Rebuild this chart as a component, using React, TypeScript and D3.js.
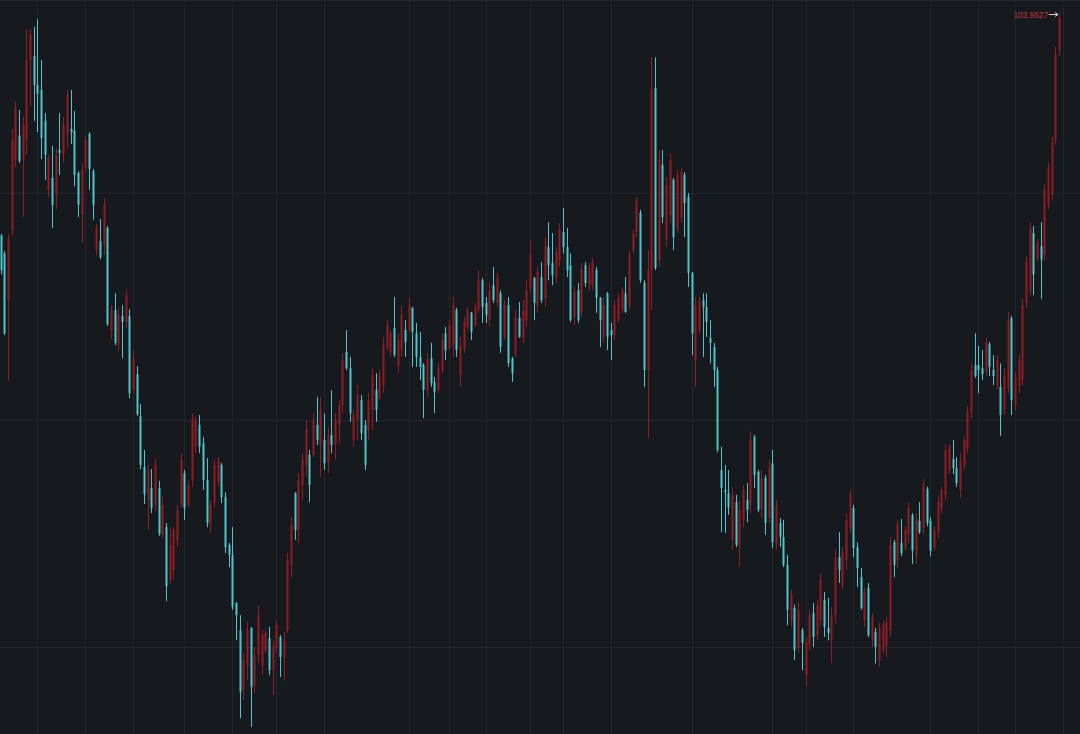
import React from 'react';
import * as d3 from 'd3';

const W = 1080;
const H = 734;

const open = [
99.06,98.67,97.64,99.19,100.73,101.26,100.73,101.17,102.93,103.02,
102.38,102.27,101.59,100.07,100.33,99.96,100.95,100.84,101.28,101.41,
101.37,100.44,99.52,100.55,101.30,100.48,98.74,98.94,98.85,99.23,
96.98,97.42,96.65,97.29,97.16,97.29,95.66,96.01,95.09,93.97,
93.24,93.50,93.13,93.50,92.47,92.64,91.48,91.70,92.36,93.13,
93.83,93.13,93.68,94.45,94.89,94.49,93.68,92.69,93.17,93.64,
94.01,93.30,92.25,92.03,90.97,90.37,89.05,89.60,90.42,89.16,
89.82,89.60,89.93,90.20,89.49,89.98,90.22,89.78,90.37,91.81,
93.39,92.58,93.57,94.01,94.23,94.23,94.89,94.45,94.56,94.07,
94.67,94.45,94.89,95.33,96.50,96.14,94.56,95.00,95.44,94.89,
94.78,95.22,95.66,95.48,95.77,96.59,96.50,97.03,96.21,96.54,
96.98,96.98,97.47,96.91,96.39,96.21,95.66,96.36,95.84,95.66,
96.10,96.91,96.59,96.65,97.42,95.99,96.59,97.03,97.36,97.09,
97.42,98.08,97.58,97.20,97.97,97.58,97.79,96.81,97.53,96.36,
96.43,97.25,96.81,97.20,97.91,98.13,97.53,98.15,97.69,98.81,
98.46,98.13,98.52,99.14,98.81,98.41,97.25,97.86,97.38,98.41,
97.97,97.97,98.30,97.69,96.81,97.79,96.98,96.87,97.20,97.42,
97.79,97.53,98.74,99.14,99.56,98.02,96.10,98.30,102.31,98.52,
100.62,98.97,99.52,100.29,99.19,99.45,100.40,99.91,98.24,96.32,
96.98,97.64,97.49,96.81,96.61,96.10,93.90,93.46,93.39,92.36,
93.19,92.25,92.80,93.24,93.13,94.63,93.86,93.02,93.72,92.84,
94.05,92.25,92.73,92.42,91.81,90.59,90.86,89.98,90.37,89.38,
90.04,90.75,90.26,90.59,91.04,90.42,90.15,90.70,91.98,91.37,
91.92,92.62,93.06,92.20,91.54,90.59,91.30,90.15,90.33,89.71,
89.93,90.04,90.37,92.31,91.92,92.29,92.18,92.47,92.91,92.03,
92.78,92.62,93.48,92.78,92.18,92.53,93.06,93.35,93.90,94.14,
93.94,93.46,94.01,94.38,95.18,96.21,96.21,96.14,96.06,96.67,
96.10,95.77,95.73,95.22,95.70,97.25,95.33,95.77,95.88,97.58,
97.86,99.12,98.57,98.83,98.63,99.74,99.96,101.17,103.15
];

const high = [
99.10,98.72,99.10,101.41,102.01,101.83,101.68,103.61,103.61,103.66,
103.83,102.93,101.76,100.84,101.04,100.99,101.76,101.68,102.27,102.27,
101.81,100.48,100.66,101.26,101.34,100.53,99.32,99.43,99.89,99.27,
97.53,97.79,97.47,97.53,97.88,97.44,96.52,96.19,95.35,94.34,
94.01,93.92,94.16,93.66,93.33,92.73,92.64,92.64,93.13,94.27,
93.90,93.68,95.15,95.07,95.11,94.63,94.16,93.24,94.12,94.18,
94.05,93.41,92.29,92.64,90.99,90.70,89.87,90.55,90.44,90.00,
90.93,90.37,90.37,90.44,90.15,90.59,90.26,90.33,92.07,92.86,
93.41,93.83,94.27,95.00,94.34,95.15,95.51,95.51,95.15,94.85,
95.66,95.15,95.44,96.48,96.98,96.39,95.22,95.77,95.55,95.00,
95.59,96.14,96.03,96.10,96.83,97.20,96.98,97.71,96.91,97.53,
97.20,97.71,97.49,97.14,96.94,96.25,96.48,96.70,95.95,96.25,
96.91,97.05,97.20,97.71,97.47,96.83,97.27,97.49,97.38,97.58,
98.30,98.13,97.71,98.02,98.37,98.24,97.86,97.64,97.71,96.39,
97.42,97.60,97.64,98.08,98.97,98.15,98.37,98.48,99.03,99.36,
99.12,98.81,99.34,99.67,99.23,98.67,97.93,98.02,98.46,98.48,
98.46,98.57,98.37,97.71,97.71,97.82,97.14,97.64,97.79,97.93,
98.15,98.74,99.19,99.91,99.63,98.08,98.74,102.99,102.99,100.95,
100.95,100.35,100.88,100.33,100.51,100.55,100.46,100.00,98.26,97.71,
97.71,97.79,97.79,97.20,96.70,96.17,94.41,94.01,93.90,93.53,
93.35,93.24,93.57,93.61,94.74,94.67,93.90,93.90,93.79,94.12,
94.34,93.24,92.84,92.80,92.03,91.26,90.93,90.99,90.42,90.22,
90.82,90.97,91.04,91.63,91.21,91.08,90.88,92.14,92.53,92.20,
92.95,93.46,93.13,92.31,91.74,91.32,91.41,90.75,90.42,90.53,
90.59,90.66,92.42,92.36,92.78,92.82,92.66,93.19,92.95,92.95,
93.19,93.70,93.53,92.86,92.66,93.33,93.53,94.47,94.47,94.56,
94.18,94.27,94.65,95.31,96.25,96.91,96.63,96.54,96.81,96.72,
96.43,96.43,96.25,96.14,97.38,97.29,96.06,96.43,97.66,98.61,
99.36,99.27,98.99,99.36,100.20,100.68,101.24,103.22,103.9527
];

const low = [
98.21,96.87,95.86,99.06,100.58,100.66,99.47,100.84,101.92,101.59,
101.34,100.75,100.29,99.91,99.23,99.65,100.40,100.66,100.99,101.08,
100.15,99.47,98.90,100.48,100.07,99.41,98.63,98.54,98.63,97.07,
96.78,96.65,96.52,96.36,97.03,95.48,95.59,95.09,93.92,93.15,
92.58,92.95,93.00,92.45,92.40,91.01,91.39,91.48,92.20,93.08,
92.80,93.08,93.53,94.27,94.27,93.46,92.64,92.51,93.08,93.53,
93.17,92.07,91.76,90.82,90.15,88.43,88.83,89.27,88.24,88.99,
89.64,89.38,89.87,89.38,88.94,89.87,89.34,89.27,90.31,91.54,
92.36,92.29,93.24,93.75,93.19,94.18,94.45,93.75,93.90,93.83,
94.27,94.12,94.49,95.15,96.10,94.96,94.41,94.56,94.56,93.90,
94.56,94.78,94.96,95.44,95.59,96.54,96.39,96.39,96.03,96.39,
96.39,96.91,96.17,96.17,95.88,95.04,95.51,95.73,95.15,95.59,
96.03,96.32,96.54,96.39,96.39,95.73,96.48,96.98,96.76,97.05,
97.36,97.14,97.14,97.05,97.58,97.49,96.48,96.76,96.17,95.84,
96.39,96.81,96.70,97.05,97.79,97.20,97.36,97.58,97.49,98.08,
97.97,98.02,98.37,98.67,98.15,97.16,97.09,97.14,97.27,97.93,
97.86,97.86,97.36,96.61,96.70,96.54,96.32,96.76,97.14,97.36,
97.36,97.42,98.67,99.03,98.02,95.73,94.60,97.42,98.30,98.37,
99.34,98.81,99.34,98.74,99.12,99.34,99.03,97.93,96.43,95.73,
96.91,96.39,96.83,96.25,95.73,94.29,92.53,92.51,92.91,92.14,
92.20,91.76,92.64,92.75,92.95,93.50,92.97,92.86,92.47,92.73,
92.18,92.14,92.20,91.76,90.48,90.44,89.71,89.87,89.49,89.12,
89.93,90.00,90.15,90.44,90.22,90.15,89.64,90.53,91.41,91.26,
91.70,92.51,91.98,91.32,90.82,90.44,90.22,90.00,89.64,89.56,
89.87,89.78,90.22,91.54,91.74,92.00,92.12,92.29,91.83,91.83,
92.49,92.49,92.66,92.00,92.12,92.40,92.95,93.24,93.81,93.81,
93.53,93.28,93.90,94.27,95.02,95.93,95.59,95.88,95.97,95.97,
95.77,95.68,94.65,95.11,95.59,95.11,95.22,95.59,95.77,97.47,
97.75,97.75,98.50,97.66,98.50,99.65,99.83,101.06,103.02
];

const close = [
98.30,96.91,98.97,101.17,101.87,100.71,101.50,102.93,103.48,102.38,
102.18,101.21,100.84,100.77,99.74,100.84,100.88,101.50,102.16,101.34,
100.40,99.74,100.51,101.17,100.53,99.74,99.23,98.59,99.74,97.11,
97.42,96.70,97.31,97.16,97.75,95.59,96.36,95.13,94.01,93.37,
93.90,93.06,94.01,92.49,93.13,91.34,92.25,92.58,93.02,94.12,
93.06,93.57,95.00,95.00,94.41,93.68,92.73,93.13,94.01,94.12,
93.30,92.20,92.03,90.88,90.70,89.01,89.71,90.37,89.12,89.82,
90.70,90.26,90.31,89.49,90.04,90.48,89.78,90.15,91.92,92.69,
92.58,93.68,94.12,94.78,93.57,95.00,94.56,95.22,94.05,94.67,
94.45,95.00,95.33,96.32,96.14,95.15,95.11,95.55,94.71,94.01,
95.44,95.99,95.22,95.99,96.65,97.09,96.91,96.43,96.76,97.31,
96.72,97.53,96.94,96.39,96.17,95.66,96.32,95.81,95.62,96.14,
96.76,96.54,97.09,97.53,96.54,96.65,97.16,97.42,96.94,97.51,
98.08,97.49,97.31,97.86,97.64,98.13,96.61,97.53,96.25,96.03,
97.25,96.83,97.42,97.86,98.63,97.58,98.26,97.64,98.85,98.41,
98.19,98.70,99.19,98.81,98.30,97.20,97.82,97.20,98.30,98.02,
98.35,98.48,97.69,97.20,97.53,96.83,96.87,97.53,97.71,97.86,
97.38,98.63,99.12,99.85,98.08,96.10,98.30,102.27,98.35,100.73,
99.47,100.18,100.73,99.03,100.40,100.46,99.78,98.24,96.91,97.53,
97.64,97.49,97.16,96.70,96.10,94.34,93.50,93.41,93.08,93.35,
92.25,93.02,93.46,93.02,94.56,93.79,93.02,93.72,92.73,93.94,
92.31,93.13,92.42,91.81,90.82,91.15,89.93,90.82,90.09,90.11,
90.70,90.22,90.93,91.48,90.44,90.31,90.70,91.96,91.70,92.09,
92.80,93.35,92.18,91.74,90.86,91.21,90.26,90.66,90.00,90.42,
90.51,90.55,92.25,91.81,92.69,92.07,92.58,93.06,92.12,92.80,
92.53,93.57,92.73,92.12,92.58,93.19,93.46,94.34,94.41,93.94,
93.61,94.12,94.56,95.18,96.10,95.97,96.10,96.01,96.72,96.17,
95.97,96.32,95.11,95.99,97.20,95.44,95.95,96.32,97.53,98.48,
99.19,98.21,98.92,98.54,100.07,100.55,101.12,103.04,103.85
];

const priceTicks = [90, 95, 100, 105];
const timeGridIdx = [10, 23, 36, 50, 63, 75, 88, 111, 122, 132, 144, 153, 166, 188, 210, 219, 232, 253, 266, 276, 289];

const BG = '#161a1e';
const GRID = '#22262c';
const UP = '#8f1d23';
const DOWN = '#4fc4cb';

export default function App() {
  const n = close.length;
  const x = d3.scaleLinear().domain([0, n - 1]).range([0.7, 1059.1]);
  const y = d3.scaleLinear().domain([90, 100]).range([647, 193]);

  const maxIdx = d3.maxIndex(high);
  const mx = Math.round(x(maxIdx));
  const my = Math.round(y(high[maxIdx])) + 0.5;
  const fmt = d3.format('.4f');

  return (
    <div style={{ position: 'fixed', left: 0, top: 0, width: W, height: H, background: BG }}>
      <svg width={W} height={H} style={{ display: 'block' }}>
        <rect x={0} y={0} width={W} height={H} fill={BG} />
        <line x1={0} x2={W} y1={0.5} y2={0.5} stroke={GRID} strokeWidth={1} />
        {priceTicks.map((t) => {
          const yy = Math.round(y(t)) + 0.5;
          return <line key={'h' + t} x1={0} x2={W} y1={yy} y2={yy} stroke={GRID} strokeWidth={1} />;
        })}
        {timeGridIdx.map((t) => {
          const xx = Math.round(x(t)) + 0.5;
          return <line key={'v' + t} x1={xx} x2={xx} y1={0} y2={H} stroke={GRID} strokeWidth={1} />;
        })}
        {close.map((c, i) => {
          const o = open[i];
          const up = c >= o;
          const col = up ? UP : DOWN;
          const r = Math.round(x(i));
          const yh = y(high[i]);
          const yl = y(low[i]);
          const yt = y(Math.max(o, c));
          const yb = y(Math.min(o, c));
          return (
            <g key={i}>
              <rect x={r} y={yh} width={1} height={Math.max(1, yl - yh)} fill={col} />
              <rect x={r - 0.5} y={yt} width={2} height={Math.max(1, yb - yt)} fill={col} />
            </g>
          );
        })}
        <text
          x={mx - 11}
          y={my + 3}
          textAnchor="end"
          fontFamily="'Liberation Sans', Arial, sans-serif"
          fontSize={8.3}
          fill="#c0373d"
        >
          {fmt(high[maxIdx])}
        </text>
        <line x1={mx - 10} x2={mx - 2} y1={my} y2={my} stroke="#cfcfcf" strokeWidth={1} />
        <path d={`M${mx - 4},${my - 2}L${mx - 1},${my}L${mx - 4},${my + 2}`} fill="none" stroke="#cfcfcf" strokeWidth={1} />
      </svg>
    </div>
  );
}
